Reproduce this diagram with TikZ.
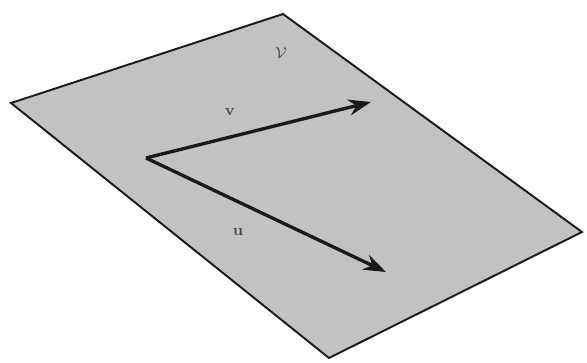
\documentclass[tikz,border=0pt]{standalone}
\usepackage{amsmath,amssymb}
\usepackage{tikz}
\usetikzlibrary{arrows.meta,positioning}
\definecolor{planegrey}{HTML}{C2C2C2}
\definecolor{inkdark}{HTML}{1A1A1A}
\tikzset{
  plane/.style  = {draw=inkdark, fill=planegrey, line width=1.1pt, line join=miter},
  vecarrow/.style = {-{Stealth[length=4.5mm,width=3.2mm]}, draw=inkdark, line width=1.9pt},
  veclabel/.style = {text=inkdark!80, font=\small, inner sep=1pt},
}

\begin{document}
\begin{tikzpicture}
    \useasboundingbox (0,0) rectangle (11.74,7.24);
    \coordinate (pl) at (0.22,5.18);
    \coordinate (pt) at (5.66,6.96);
    \coordinate (pr) at (11.64,2.60);
    \coordinate (pb) at (6.58,0.08);
    \coordinate (o) at (2.92,4.08);
    \coordinate (vtip) at (7.42,5.20);
    \coordinate (utip) at (7.72,1.80);
    \draw[plane] (pl) -- (pt) -- (pr) -- (pb) -- cycle;
    \draw[vecarrow] (o) -- (vtip); \draw[vecarrow] (o) -- (utip);
    \node[veclabel] (lV) at (5.62,6.18) {$\mathcal{V}$};
    \node[veclabel] (lv) at (4.60,5.00) {$\mathbf{v}$};
    \node[veclabel] (lu) at (4.76,2.60) {$\mathbf{u}$};
  \end{tikzpicture}
\end{document}
